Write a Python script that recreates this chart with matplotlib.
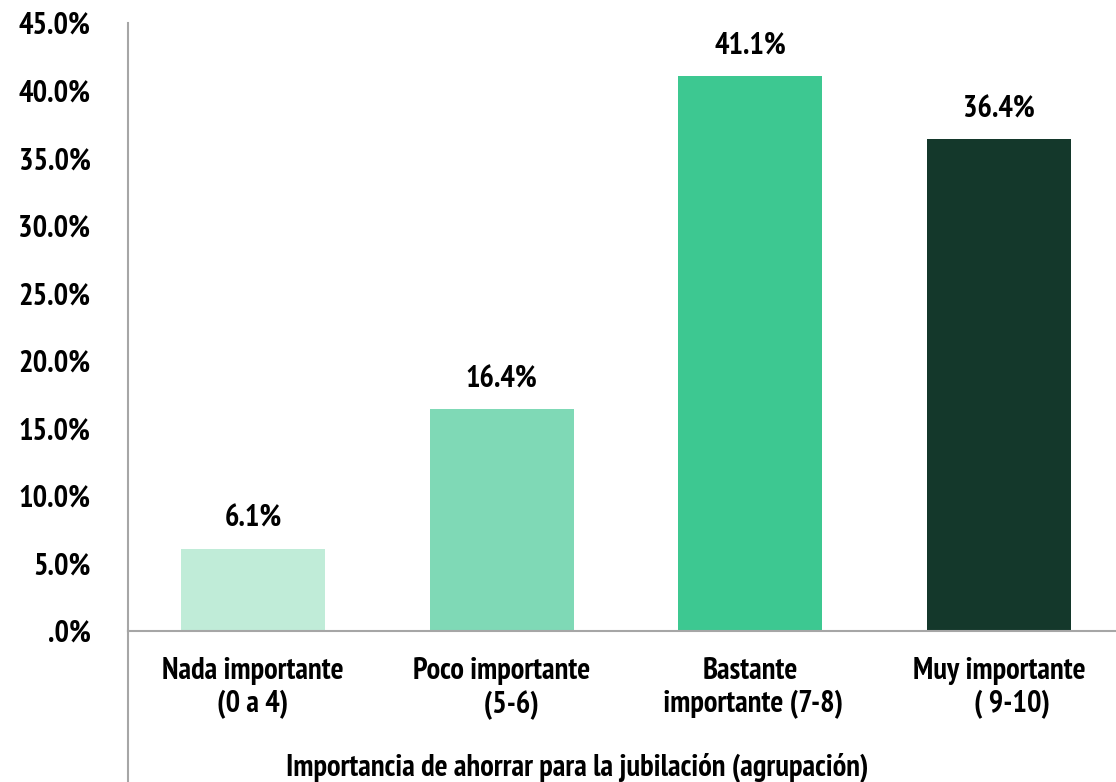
import matplotlib.pyplot as plt
from matplotlib import font_manager

categories = ['Nada importante\n(0 a 4)', 'Poco importante\n   (5-6)',
              'Bastante\n importante (7-8)', 'Muy importante\n    ( 9-10)']
values = [6.1, 16.4, 41.1, 36.4]
value_labels = ['6.1%', '16.4%', '41.1%', '36.4%']
colors = ['#C0ECD8', '#7FD9B6', '#3DC891', '#14382B']
yticks = [0, 5, 10, 15, 20, 25, 30, 35, 40, 45]
ytick_labels = ['.0%', '5.0%', '10.0%', '15.0%', '20.0%', '25.0%', '30.0%',
                '35.0%', '40.0%', '45.0%']
xlabel = 'Importancia de ahorrar para la jubilación (agrupación)'

# pick a condensed bold face that is installed
installed = {f.name for f in font_manager.fontManager.ttflist}
preferred = ['PT Sans Narrow', 'Fira Sans Condensed', 'Roboto Condensed',
             'Barlow Condensed', 'Archivo Narrow', 'Sofia Sans Condensed']
font = next((f for f in preferred if f in installed), 'DejaVu Sans')
plt.rcParams['font.family'] = [font, 'DejaVu Sans']
plt.rcParams['font.weight'] = 'bold'
fs = 22

W, H = 1116, 782
fig = plt.figure(figsize=(W / 100, H / 100), dpi=100)
ax = fig.add_axes([128 / W, (H - 631) / H, (W - 128) / W, (631 - 23) / H])

x = list(range(len(values)))
ax.bar(x, values, width=0.579, color=colors)
for xi, v, lab in zip(x, values, value_labels):
    ax.annotate(lab, (xi, v), xytext=(0, 30), textcoords='offset pixels',
                ha='center', va='center', fontsize=fs, fontweight='bold')

ax.set_xlim(-0.503, 3.47)
ax.set_ylim(0, 45)
ax.set_yticks(yticks)
ax.set_yticklabels(ytick_labels, fontsize=fs, fontweight='bold')
ax.set_xticks(x)
ax.set_xticklabels(categories, fontsize=fs, fontweight='bold', linespacing=1.22)
ax.tick_params(axis='y', length=0, pad=27)
ax.tick_params(axis='x', length=0, pad=19)

for s in ['top', 'right']:
    ax.spines[s].set_visible(False)
for s in ['left', 'bottom']:
    ax.spines[s].set_color('#A6A6A6')
    ax.spines[s].set_linewidth(1.5)
ax.plot([0, 0], [0, -0.26], transform=ax.transAxes, color='#A6A6A6',
        lw=1.5, clip_on=False)

fig.text(577 / W, (H - 767) / H, xlabel, ha='center', va='center',
         fontsize=fs, fontweight='bold')

fig.savefig('out.png', dpi=100)
